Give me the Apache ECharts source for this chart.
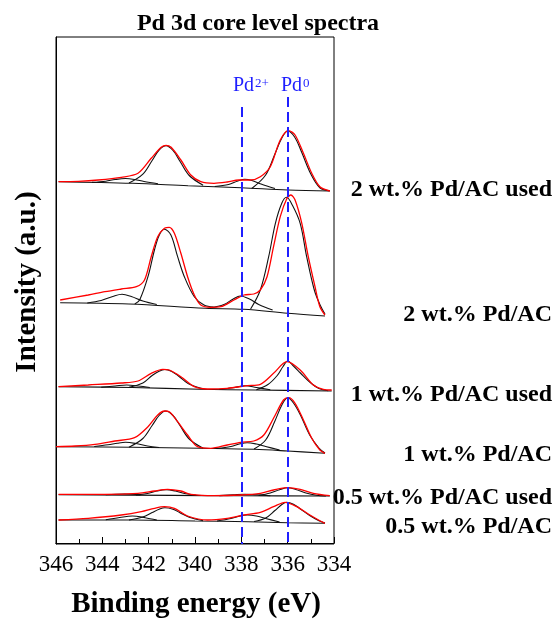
<!DOCTYPE html>
<html><head><meta charset="utf-8">
<script src="https://cdn.jsdelivr.net/npm/echarts@6/dist/echarts.min.js"></script>
<style>html,body{margin:0;padding:0;background:#fff}#c{width:555px;height:623px}</style>
</head><body><div id="c"></div>
<script>
// ---------------- DATA ----------------
const energyTicks = [346, 344, 342, 340, 338, 336, 334];
const sampleNames = ['2 wt.% Pd/AC used', '2 wt.% Pd/AC', '1 wt.% Pd/AC used', '1 wt.% Pd/AC', '0.5 wt.% Pd/AC used', '0.5 wt.% Pd/AC'];
const refPositions = [338, 336];
const refNames = [['Pd', '2+'], ['Pd', '0']];

// each spectrum: measured (red), baseline + fitted components (black); [binding energy, stacked intensity a.u.]
const spec2Used = {
  measured: [[345.89,361.3],[345.03,361.7],[344.18,363],[343.18,365.7],[342.46,369.7],[341.89,384.7],[341.46,395.7],[341.25,397.7],[341.03,395.7],[340.61,383],[340.18,368],[339.75,361.3],[339.18,359.7],[338.61,361],[338.11,363],[337.61,363],[337.18,366.3],[336.75,376.3],[336.32,403],[335.96,412.3],[335.68,408],[335.32,389.7],[334.96,369.7],[334.61,356.3],[334.18,352]],
  baseline: [[345.89,361.3],[342.7,359.7],[340.3,357.3],[338.0,355.3],[336.0,353],[334.18,352]],
  components: [
    [[344.45,360.6],[343.85,361.8],[343.45,363.5],[343.0,364.5],[342.6,363.5],[342.2,361.5],[341.6,359.3]],
    [[342.85,359.9],[342.25,368.8],[341.85,382.5],[341.55,393],[341.25,397.3],[340.95,392.5],[340.65,381.8],[340.25,367.5],[339.65,357.8]],
    [[339.15,356.5],[338.55,358.5],[338.15,362],[337.85,363.7],[337.55,362.5],[337.15,359],[336.55,354.5]],
    [[337.55,354.5],[336.95,368],[336.55,389],[336.25,405],[336.0,412],[335.7,406],[335.4,391],[335.0,369],[334.6,355],[334.18,352.3]]
  ]
};
const spec2 = {
  measured: [[345.82,243],[344.61,248],[343.89,251.3],[343.18,254],[342.53,256.3],[342.18,263],[341.89,286.3],[341.61,306.3],[341.32,314.7],[341.11,315.7],[340.89,309.7],[340.61,289.7],[340.32,266.3],[340.03,248],[339.75,238],[339.32,235.7],[338.89,236.3],[338.32,243],[337.89,248],[337.46,249],[337.18,253],[336.89,266.3],[336.61,296.3],[336.32,326.3],[336.03,344.7],[335.86,348],[335.68,343],[335.39,319.7],[335.11,286.3],[334.82,256.3],[334.61,236.3],[334.39,228]],
  baseline: [[345.82,240.3],[342.85,239],[339.55,234.7],[337.9,233.7],[336.0,229.7],[334.39,227]],
  components: [
    [[344.65,240],[344.05,242.5],[343.55,246.5],[343.15,248.7],[342.75,246.5],[342.25,242],[341.65,238.5]],
    [[342.6,239],[342.39,243],[342.03,266.3],[341.75,293],[341.54,308],[341.32,313.7],[341.04,308],[340.75,286.3],[340.46,266.3],[340.03,246.3],[339.61,238],[339.2,236]],
    [[339.35,235],[338.75,238.5],[338.35,244],[338.05,247],[337.65,244],[337.25,238.5],[336.65,233]],
    [[337.6,234],[337.18,253],[336.82,286.3],[336.53,319.7],[336.25,340],[336.05,345.7],[335.8,338],[335.46,319.7],[335.18,286.3],[334.85,253],[334.6,238],[334.39,229]]
  ]
};
const spec1Used = {
  measured: [[345.89,156.3],[344.61,158],[343.18,160],[342.46,162],[341.89,169.7],[341.39,173.7],[341.11,173],[340.61,166.3],[340.03,156.3],[339.46,154],[338.61,154.7],[337.75,157.3],[337.18,158.7],[336.61,169.7],[336.03,181.3],[335.46,173],[334.89,158],[334.46,153.7],[334.1,153]],
  baseline: [[345.89,156.3],[342.7,155.5],[339.8,153.7],[337.4,153],[334.1,152]],
  components: [
    [[344.05,155.8],[343.45,157],[342.95,158],[342.45,157],[341.95,155.5]],
    [[342.85,155.8],[342.25,160],[341.85,167.5],[341.55,171.8],[341.3,173.5],[341.0,171.5],[340.7,166.8],[340.3,159.5],[339.7,154.5]],
    [[338.95,153.5],[338.35,155.2],[337.85,157.2],[337.35,155.5],[336.75,153.2]],
    [[337.35,153.2],[336.85,158.5],[336.45,167.5],[336.2,176.5],[336.0,182],[335.75,177],[335.45,170],[335.05,161],[334.65,154.5],[334.25,152.3]]
  ]
};
const spec1 = {
  measured: [[346.0,96.3],[345.18,97],[344.32,98.7],[343.46,102],[342.61,105.3],[342.03,116.3],[341.61,128],[341.32,132],[341.11,131.3],[340.75,121.3],[340.32,108],[339.89,96.3],[339.32,94.7],[338.61,98],[338.03,100.7],[337.46,102],[337.03,108],[336.61,124.7],[336.18,143],[335.96,145.3],[335.68,139.7],[335.32,123],[334.96,104.7],[334.61,93],[334.39,89.7]],
  baseline: [[346.0,96.3],[342.7,95.7],[339.75,94.7],[337.45,93.7],[336.0,92],[334.39,89.7]],
  components: [
    [[344.35,96.5],[343.75,98.2],[343.35,99.8],[343.0,100.7],[342.55,99.5],[342.05,97],[341.55,95.5]],
    [[342.85,95.8],[342.25,104.5],[341.85,117.5],[341.55,127.5],[341.27,132],[340.95,127.5],[340.65,117.5],[340.25,104],[339.65,94.8]],
    [[339.05,94.6],[338.45,96.5],[338.05,99.2],[337.75,100.3],[337.35,99],[336.95,96.5],[336.35,93]],
    [[337.45,94],[336.95,103],[336.55,122],[336.25,138],[336.0,145.3],[335.75,140],[335.45,128],[335.05,108],[334.65,95],[334.39,90]]
  ]
};
const spec05Used = {
  measured: [[345.89,48.7],[343.89,48.7],[342.46,49.7],[341.75,52],[341.18,53.7],[340.61,52],[340.18,48.7],[339.18,47.3],[338.03,48],[337.18,49.7],[336.61,53],[336.03,55.3],[335.46,53.7],[334.89,49.7],[334.18,47.3]],
  baseline: [[345.89,48.2],[341.0,47.6],[337.9,47.2],[334.18,47]],
  components: [
    [[343.85,48.2],[343.05,49],[342.35,48.1]],
    [[342.55,48],[342.05,49.5],[341.65,52],[341.25,53.3],[340.85,52],[340.45,49.5],[339.95,47.8]],
    [[338.95,47.4],[338.35,48.2],[337.85,48.8],[337.35,48.2],[336.75,47.3]],
    [[337.25,47.5],[336.75,50],[336.35,53.3],[336.0,55.2],[335.65,53.5],[335.25,50.3],[334.75,47.8],[334.35,47.1]]
  ]
};
const spec05 = {
  measured: [[345.89,23],[344.61,24.7],[343.18,28],[342.32,31.3],[341.75,34.7],[341.32,36.3],[340.89,34.7],[340.32,27],[339.46,23],[338.61,24.7],[337.89,28],[337.18,30.7],[336.61,36.3],[336.11,40.7],[335.61,36.3],[335.04,28],[334.61,22.3],[334.39,19.7]],
  baseline: [[345.89,23],[342.7,23],[340.0,22],[337.7,21.3],[336.0,20.3],[334.39,19.7]],
  components: [
    [[343.85,23.3],[343.25,25.5],[342.7,27],[342.15,25.3],[341.65,23]],
    [[342.85,23],[342.25,26],[341.85,30.5],[341.55,33.8],[341.3,35.3],[340.95,33.8],[340.65,30.3],[340.25,25.8],[339.65,22.4]],
    [[339.05,22],[338.45,24.5],[338.05,27],[337.75,28],[337.35,27],[336.95,24.5],[336.35,21]],
    [[337.45,21.5],[336.95,25],[336.55,32.5],[336.25,38.5],[336.05,40.7],[335.75,38.8],[335.45,34],[335.05,27.5],[334.65,22.3],[334.39,20]]
  ]
};

// ---------------- CHART ----------------
const spectra = [spec2Used, spec2, spec1Used, spec1, spec05Used, spec05];
const FONT = '"Liberation Serif", "Times New Roman", serif';
const chart = echarts.init(document.getElementById('c'), null, { renderer: 'canvas' });

const blackLine = { type: 'line', smooth: 0.35, showSymbol: false, silent: true, animation: false,
  lineStyle: { color: '#111', width: 1.1 }, z: 2 };
const redLine = { type: 'line', smooth: 0.3, showSymbol: false, silent: true, animation: false,
  lineStyle: { color: '#ff0000', width: 1.3 }, z: 3 };

const series = [];
spectra.forEach(s => {
  series.push(Object.assign({}, blackLine, { data: s.baseline }));
  s.components.forEach(c => series.push(Object.assign({}, blackLine, { data: c })));
  series.push(Object.assign({}, redLine, { data: s.measured }));
});
const dashTop = [436, 446];
series.push({
  type: 'line', data: [], silent: true, animation: false, z: 4,
  markLine: {
    symbol: 'none', silent: true, animation: false, label: { show: false },
    lineStyle: { color: '#1f1fff', type: [10, 5], width: 2 },
    data: refPositions.map((x, i) => [{ coord: [x, dashTop[i]] }, { coord: [x, -1] }])
  }
});

const labelY = [190, 315, 395, 455, 498, 527];
const graphic = [
  { type: 'text', x: 258, y: 24, style: { text: 'Pd 3d core level spectra', font: 'bold 24px ' + FONT, fill: '#000', textAlign: 'center', textVerticalAlign: 'middle' } },
  { type: 'text', x: 28, y: 282, rotation: Math.PI / 2, style: { text: 'Intensity (a.u.)', font: 'bold 29px ' + FONT, fill: '#000', textAlign: 'center', textVerticalAlign: 'middle' } },
  { type: 'text', x: 196, y: 605, style: { text: 'Binding energy (eV)', font: 'bold 29px ' + FONT, fill: '#000', textAlign: 'center', textVerticalAlign: 'middle' } }
];
sampleNames.forEach((n, i) => graphic.push({ type: 'text', x: 552, y: labelY[i],
  style: { text: n, font: 'bold 24px ' + FONT, fill: '#000', textAlign: 'right', textVerticalAlign: 'middle' } }));
const refLabelX = [233, 281];
refNames.forEach((r, i) => {
  graphic.push({ type: 'text', x: refLabelX[i], y: 96, style: { text: r[0], font: '20px ' + FONT, fill: '#1f1fff', textAlign: 'left', textVerticalAlign: 'bottom' } });
  graphic.push({ type: 'text', x: refLabelX[i] + 22, y: 77, style: { text: r[1], font: '13px ' + FONT, fill: '#1f1fff', textAlign: 'left', textVerticalAlign: 'top' } });
});

chart.setOption({
  backgroundColor: '#fff',
  animation: false,
  grid: { left: 56, right: 221, top: 37, bottom: 79, show: true, borderColor: '#000', borderWidth: 1, containLabel: false },
  xAxis: {
    type: 'value', inverse: true, min: energyTicks[energyTicks.length - 1], max: energyTicks[0], interval: 2,
    axisLine: { show: true, lineStyle: { color: '#000', width: 1 } },
    axisTick: { show: true, inside: true, length: 6, lineStyle: { color: '#000' } },
    minorTick: { show: true, splitNumber: 2, length: 4, lineStyle: { color: '#000' } },
    splitLine: { show: false }, minorSplitLine: { show: false },
    axisLabel: { show: true, color: '#000', fontSize: 23, fontFamily: FONT, margin: 9, showMinLabel: true, showMaxLabel: true }
  },
  yAxis: {
    type: 'value', min: -1, max: 506,
    axisLine: { show: true, lineStyle: { color: '#000' } },
    axisTick: { show: false }, axisLabel: { show: false }, splitLine: { show: false }
  },
  series: series,
  graphic: graphic
});
</script></body></html>
